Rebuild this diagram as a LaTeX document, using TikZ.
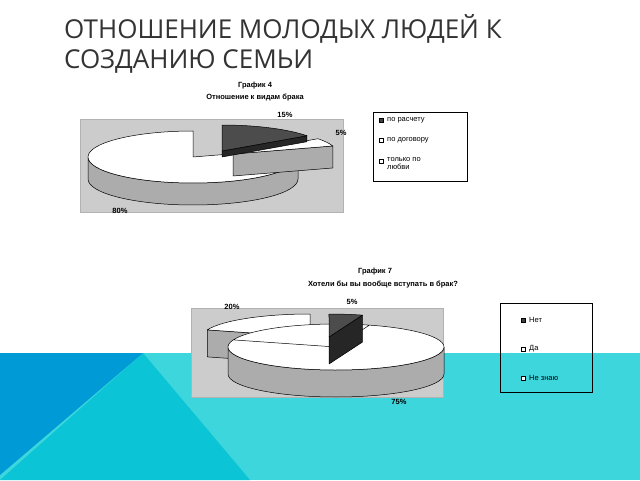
\documentclass[tikz,border=0pt]{standalone}
\usepackage{fontspec}
\setmainfont{Liberation Sans}
\newfontfamily\titlefont{Open Sans}
\usetikzlibrary{calc}
\begin{document}
\begin{tikzpicture}[x=1pt,y=1pt,
  lbl/.style={font=\bfseries\fontsize{7.5}{8}\selectfont,inner sep=0pt},
  leg/.style={font=\fontsize{7.5}{8.5}\selectfont,inner sep=0pt,anchor=west,align=left},
  sq/.style={draw=black,line width=0.4pt,minimum size=4pt,inner sep=0pt},
  edge/.style={draw=black,line width=0.5pt,line join=round}]
\useasboundingbox (0,0) rectangle (640,480);
\fill[white] (0,0) rectangle (640,480);
% background band
\fill[fill={rgb,255:red,61;green,214;blue,221}] (0,0) rectangle (640,127);
\fill[fill={rgb,255:red,11;green,196;blue,214}] (0,0) -- (143,127) -- (250,0) -- cycle;
\fill[fill={rgb,255:red,0;green,155;blue,214}] (0,127) -- (143,127) -- (0,5) -- cycle;
% title
\node[font=\titlefont\fontsize{26}{30}\selectfont,text=black!80,anchor=north west,align=left,inner sep=0pt] (title) at (64,466) {ОТНОШЕНИЕ МОЛОДЫХ ЛЮДЕЙ К\\СОЗДАНИЮ СЕМЬИ};

% ===== chart 4 =====
\fill[gray!40,draw=gray!60] (80,268) rectangle (343,361);
\coordinate (c1) at (193,323);
% white 80% slice
\path[edge,fill=gray!65] ($(c1)+(-105,0)$) arc[start angle=180,end angle=360,x radius=105,y radius=26] -- ++(0,-22) arc[start angle=360,end angle=180,x radius=105,y radius=26] -- cycle;
\path[edge,fill=white] (c1) -- ++(0,26) arc[start angle=90,end angle=378,x radius=105,y radius=26] -- cycle;
% 5% slice
\coordinate (c1b) at (233,326);
\path[edge,fill=gray!65] (c1b) -- ++(99.86,8.03) -- ++(0,-22) -- ($(c1b)+(0,-22)$) -- cycle;
\path[edge,fill=white] (c1b) -- ++(99.86,8.03) arc[start angle=18,end angle=36,x radius=105,y radius=26] -- cycle;
% 15% slice
\coordinate (c1a) at (222,329);
\path[edge,fill=black!85] (c1a) -- ++(84.95,15.28) -- ++(0,-6) -- ($(c1a)+(0,-6)$) -- cycle;
\path[edge,fill=black!70] (c1a) -- ++(84.95,15.28) arc[start angle=36,end angle=90,x radius=105,y radius=26] -- cycle;
\node[lbl] (t4a) at (255,394) {График 4};
\node[lbl] (t4b) at (255,382) {Отношение к видам брака};
\node[lbl] (p15) at (285,365) {15\%};
\node[lbl] (p5) at (341,347) {5\%};
\node[lbl] (p80) at (120,269) {80\%};
\draw[black,line width=0.5pt] (373,299) rectangle (467,368);
\node[sq,fill=black!75] (s1) at (381,360) {};
\node[leg] (l1) at (387,360) {по расчету};
\node[sq,fill=white] (s2) at (381,340) {};
\node[leg] (l2) at (387,340) {по договору};
\node[sq,fill=white] (s3) at (381,319) {};
\node[leg,anchor=north west] (l3) at (387,323) {только по\\любви};

% ===== chart 7 =====
\fill[gray!40,draw=gray!60] (191,83) rectangle (443,172);
\coordinate (c2) at (336,133);
% 20% slice
\coordinate (c2b) at (310,143);
\path[edge,fill=gray!65] (c2b) -- ++(-102.71,7.11) -- ++(0,-27) -- ($(c2b)+(0,-27)$) -- cycle;
\path[edge,fill=white] (c2b) -- ++(0,23) arc[start angle=90,end angle=162,x radius=108,y radius=23] -- cycle;
% 75% slice
\path[edge,fill=gray!65] ($(c2)+(-108,0)$) arc[start angle=180,end angle=360,x radius=108,y radius=23] -- ++(0,-27) arc[start angle=360,end angle=180,x radius=108,y radius=23] -- cycle;
\path[edge,fill=white] (c2) -- ++(-102.71,7.11) arc[start angle=162,end angle=-288,x radius=108,y radius=23] -- cycle;
% 5% slice
\coordinate (c2a) at (329,143);
\path[edge,fill=black!85] (c2a) -- ++(33.37,21.87) -- ++(0,-27) -- ($(c2a)+(0,-27)$) -- cycle;
\path[edge,fill=black!70] (c2a) -- ++(33.37,21.87) arc[start angle=72,end angle=90,x radius=108,y radius=23] -- cycle;
\node[lbl] (t7a) at (375,208) {График 7};
\node[lbl] (t7b) at (383,195) {Хотели бы вы вообще вступать в брак?};
\node[lbl] (q5) at (352,178) {5\%};
\node[lbl] (q20) at (232,173) {20\%};
\node[lbl] (q75) at (399,78) {75\%};
\draw[black,line width=0.5pt] (500,88) rectangle (592,177);
\node[sq,fill=black!75] (r1) at (523,160) {};
\node[leg] (m1) at (529,160) {Нет};
\node[sq,fill=white] (r2) at (523,131) {};
\node[leg] (m2) at (529,131) {Да};
\node[sq,fill=white] (r3) at (523,102) {};
\node[leg] (m3) at (529,102) {Не знаю};
\end{tikzpicture}
\end{document}
